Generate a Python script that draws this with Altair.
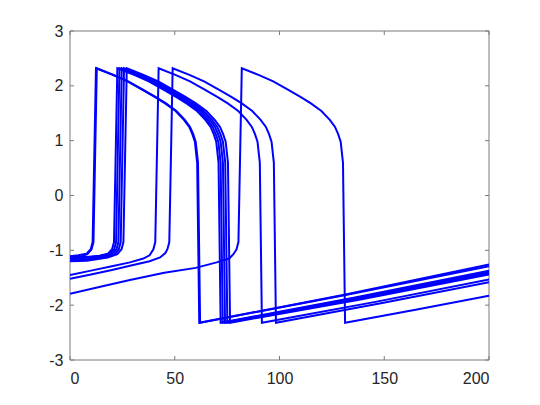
import altair as alt
import pandas as pd

# ---- data ----
line01_t = [0, 4, 7.9, 9.9, 10.8, 12.4, 20.4, 27.4, 34.4, 40.4, 45.4, 50.4, 54.4, 56.9, 58.4, 59.6, 60.7, 61.7, 130.9, 200]
line01_v = [-1.11, -1.09, -1.06, -0.98, -0.85, 2.32, 2.2, 2.08, 1.93, 1.8, 1.68, 1.54, 1.38, 1.25, 1.12, 0.98, 0.6, -2.32, -1.81, -1.26]

line02_t = [0, 4, 8.3, 10.3, 11.2, 12.8, 20.8, 27.8, 34.8, 40.8, 45.8, 50.8, 54.8, 57.3, 58.8, 60.0, 61.1, 62.1, 131.0, 200]
line02_v = [-1.17, -1.13, -1.07, -0.98, -0.85, 2.32, 2.2, 2.08, 1.93, 1.8, 1.68, 1.54, 1.38, 1.25, 1.12, 0.98, 0.6, -2.32, -1.82, -1.29]

line03_t = [0, 8, 14, 18.1, 20.1, 21.0, 22.6, 30.6, 37.6, 44.6, 50.6, 55.6, 60.6, 64.6, 67.1, 68.6, 69.8, 70.9, 71.9, 136.0, 200]
line03_v = [-1.12, -1.12, -1.10, -1.06, -0.98, -0.85, 2.32, 2.2, 2.08, 1.93, 1.8, 1.68, 1.54, 1.38, 1.25, 1.12, 0.98, 0.6, -2.32, -1.86, -1.37]

line04_t = [0, 8, 15, 19.1, 21.1, 22.0, 23.6, 31.6, 38.6, 45.6, 51.6, 56.6, 61.6, 65.6, 68.1, 69.6, 70.8, 71.9, 72.9, 136.5, 200]
line04_v = [-1.14, -1.13, -1.10, -1.06, -0.98, -0.85, 2.32, 2.2, 2.08, 1.93, 1.8, 1.68, 1.54, 1.38, 1.25, 1.12, 0.98, 0.6, -2.32, -1.87, -1.39]

line05_t = [0, 8, 16, 20.2, 22.2, 23.1, 24.7, 32.7, 39.7, 46.7, 52.7, 57.7, 62.7, 66.7, 69.2, 70.7, 71.9, 73.0, 74.0, 137.0, 200]
line05_v = [-1.16, -1.15, -1.11, -1.06, -0.98, -0.85, 2.32, 2.2, 2.08, 1.93, 1.8, 1.68, 1.54, 1.38, 1.25, 1.12, 0.98, 0.6, -2.32, -1.88, -1.41]

line06_t = [0, 8, 17, 21.3, 23.3, 24.2, 25.8, 33.8, 40.8, 47.8, 53.8, 58.8, 63.8, 67.8, 70.3, 71.8, 73.0, 74.1, 75.1, 137.5, 200]
line06_v = [-1.18, -1.17, -1.12, -1.07, -0.98, -0.85, 2.32, 2.2, 2.08, 1.93, 1.8, 1.68, 1.54, 1.38, 1.25, 1.12, 0.98, 0.6, -2.32, -1.89, -1.42]

line07_t = [0, 8, 18, 22.6, 24.6, 25.5, 27.1, 35.1, 42.1, 49.1, 55.1, 60.1, 65.1, 69.1, 71.6, 73.1, 74.3, 75.4, 76.4, 138.0, 200]
line07_v = [-1.20, -1.19, -1.13, -1.07, -0.98, -0.85, 2.32, 2.2, 2.08, 1.93, 1.8, 1.68, 1.54, 1.38, 1.25, 1.12, 0.98, 0.6, -2.32, -1.90, -1.44]

line08_t = [0, 10, 20, 28.6, 35, 38, 39.8, 40.7, 42.3, 50.3, 57.3, 64.3, 70.3, 75.3, 80.3, 84.3, 86.8, 88.3, 89.5, 90.6, 91.6, 145.8, 200]
line08_v = [-1.45, -1.37, -1.29, -1.22, -1.15, -1.09, -0.98, -0.85, 2.32, 2.2, 2.08, 1.93, 1.8, 1.68, 1.54, 1.38, 1.25, 1.12, 0.98, 0.6, -2.32, -1.94, -1.53]

line09_t = [0, 10, 20, 28.6, 38, 43, 45.5, 46.5, 47.4, 49.0, 57.0, 64.0, 71.0, 77.0, 82.0, 87.0, 91.0, 93.5, 95.0, 96.2, 97.3, 98.3, 149.0, 200]
line09_v = [-1.52, -1.44, -1.36, -1.28, -1.20, -1.13, -1.05, -0.98, -0.85, 2.32, 2.2, 2.08, 1.93, 1.8, 1.68, 1.54, 1.38, 1.25, 1.12, 0.98, 0.6, -2.32, -1.96, -1.58]

line10_t = [0, 15, 28.6, 45, 60, 70, 76, 78, 79.5, 80.4, 82, 90, 97, 104, 110, 115, 120, 124, 126.5, 128, 129.2, 130.3, 131.3, 165.6, 200]
line10_v = [-1.79, -1.66, -1.54, -1.41, -1.32, -1.22, -1.15, -1.07, -0.98, -0.85, 2.32, 2.2, 2.08, 1.93, 1.8, 1.68, 1.54, 1.38, 1.25, 1.12, 0.98, 0.6, -2.32, -2.08, -1.83]

x_ticks = [0, 50, 100, 150, 200]
y_ticks = [-3, -2, -1, 0, 1, 2, 3]

traces = [
    (line01_t, line01_v), (line02_t, line02_v), (line03_t, line03_v),
    (line04_t, line04_v), (line05_t, line05_v), (line06_t, line06_v),
    (line07_t, line07_v), (line08_t, line08_v), (line09_t, line09_v),
    (line10_t, line10_v),
]

rows = []
for i, (ts, vs) in enumerate(traces):
    for k, (t, v) in enumerate(zip(ts, vs)):
        rows.append({"t": t, "v": v, "line": i, "k": k})
df = pd.DataFrame(rows)
xt = pd.DataFrame({"t": x_ticks})
yt = pd.DataFrame({"v": y_ticks})
box = pd.DataFrame({"id": [0]})

W, H = 419, 329
FRAME = "#7a7a7a"
TL = 4

xscale = alt.Scale(domain=[0, 200], nice=False, zero=False)
yscale = alt.Scale(domain=[-3, 3], nice=False, zero=False)
xaxis = alt.Axis(values=x_ticks, labelExpr="'' + datum.value", title=None,
                 grid=False, ticks=False, domain=False, labelPadding=10)
yaxis = alt.Axis(values=y_ticks, labelExpr="'' + datum.value", title=None,
                 grid=False, ticks=False, domain=False, labelPadding=7)

lines = alt.Chart(df).mark_line(color="#0000ff", strokeWidth=2, clip=True).encode(
    x=alt.X("t:Q", scale=xscale, axis=xaxis),
    y=alt.Y("v:Q", scale=yscale, axis=yaxis),
    detail="line:N",
    order="k:Q",
)

xb = alt.Chart(xt).mark_rule(color=FRAME, strokeWidth=1).encode(
    x=alt.X("t:Q", scale=xscale, axis=xaxis), y=alt.value(H), y2=alt.value(H - TL))
xtop = alt.Chart(xt).mark_rule(color=FRAME, strokeWidth=1).encode(
    x=alt.X("t:Q", scale=xscale, axis=xaxis), y=alt.value(0), y2=alt.value(TL))
yl = alt.Chart(yt).mark_rule(color=FRAME, strokeWidth=1).encode(
    y=alt.Y("v:Q", scale=yscale, axis=yaxis), x=alt.value(0), x2=alt.value(TL))
yr = alt.Chart(yt).mark_rule(color=FRAME, strokeWidth=1).encode(
    y=alt.Y("v:Q", scale=yscale, axis=yaxis), x=alt.value(W), x2=alt.value(W - TL))

frame = alt.Chart(box).mark_rect(fillOpacity=0, stroke=FRAME, strokeWidth=1).encode(
    x=alt.value(0), x2=alt.value(W), y=alt.value(0), y2=alt.value(H))

chart = alt.layer(frame, xb, xtop, yl, yr, lines).properties(
    width=W, height=H,
    autosize=alt.AutoSizeParams(type="none"),
    padding={"left": 62, "top": 23, "right": 30, "bottom": 45},
    background="white",
).configure_view(
    stroke=None
).configure_axis(
    labelFont="Liberation Sans", labelFontSize=16, labelColor="#262626"
)

chart.save("out.html", embed_options={"renderer": "svg", "actions": False})
